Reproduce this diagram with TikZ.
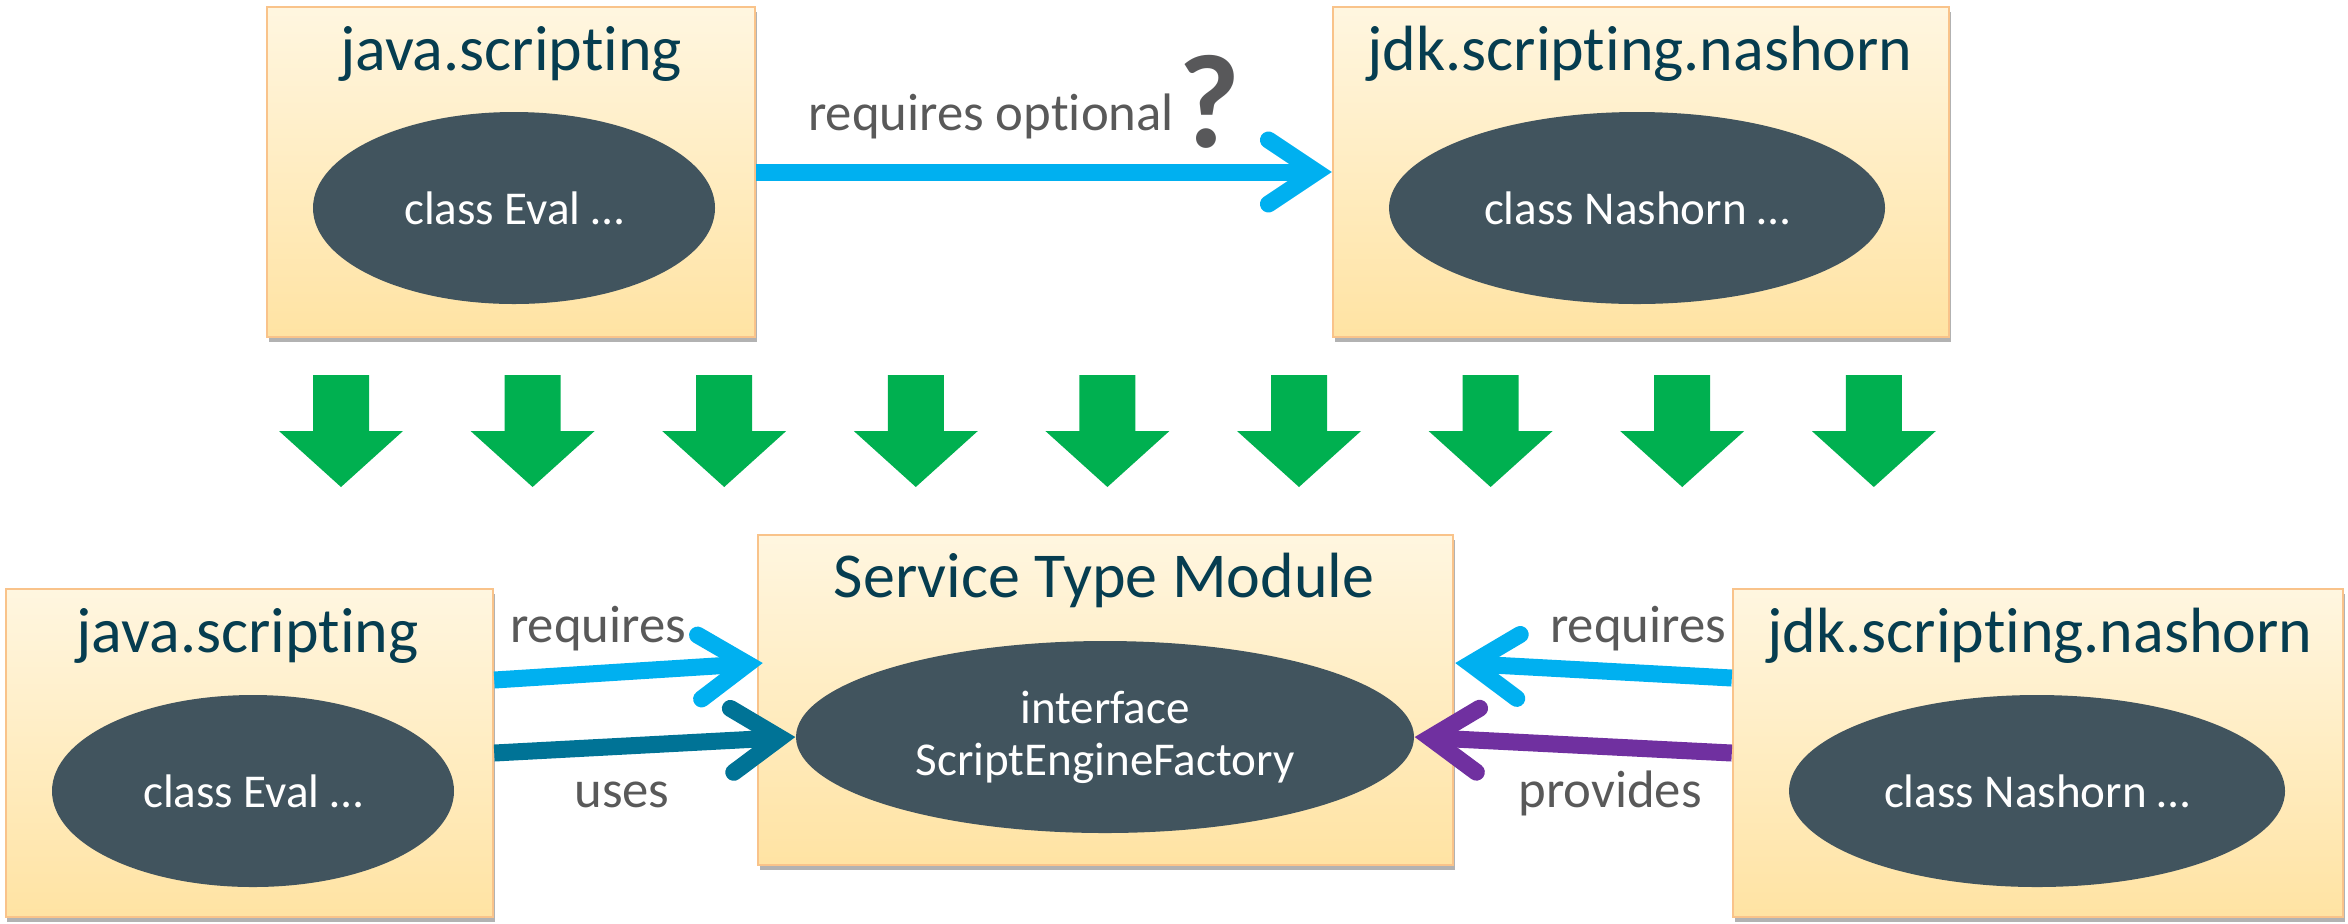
\documentclass[tikz,border=0pt]{standalone}
\usepackage{fontspec}
\setmainfont{Carlito}[Ligatures=NoCommon]
\usetikzlibrary{arrows.meta,shadows,shapes.geometric}
\definecolor{boxtop}{HTML}{FFF6E0}
\definecolor{boxbot}{HTML}{FFE3A3}
\definecolor{boxedge}{HTML}{F9C38A}
\definecolor{ellfill}{HTML}{41545E}
\definecolor{titlecol}{HTML}{063D50}
\definecolor{lblgray}{HTML}{595959}
\definecolor{qgray}{HTML}{58585A}
\definecolor{reqblue}{HTML}{00B0F0}
\definecolor{usesteal}{HTML}{007396}
\definecolor{provpurple}{HTML}{7030A0}
\definecolor{downgreen}{HTML}{00B050}
\tikzset{
  modbox/.style={draw=boxedge, line width=0.7pt, top color=boxtop, bottom color=boxbot, inner sep=0pt,
    drop shadow={shadow xshift=0.015cm, shadow yshift=-0.05cm, opacity=0.3, fill=black}},
  cls/.style={ellipse, fill=ellfill, text=white, inner sep=0pt, minimum height=1.92cm,
    font=\fontsize{13.4}{14.8}\selectfont, align=center},
  titletext/.style={anchor=base, text=titlecol, font=\fontsize{18.2}{20}\selectfont, inner sep=0pt},
  lbl/.style={anchor=base, text=lblgray, font=\fontsize{15}{17}\selectfont, inner sep=0pt},
  conn/.style={line width=0.17cm, -{Straight Barb[length=0.48cm, width=0.64cm, line cap=round, line join=miter]}},
  blockdown/.style={fill=downgreen},
}
\begin{document}
\begin{tikzpicture}
\useasboundingbox (0,0) rectangle (23.48,-9.23);
% module boxes
\node[modbox, minimum width=4.88cm, minimum height=3.30cm] (TL) at (5.11,-1.72) {};
\node[modbox, minimum width=6.16cm, minimum height=3.30cm] (TR) at (16.41,-1.72) {};
\node[modbox, minimum width=4.87cm, minimum height=3.28cm] (BL) at (2.495,-7.53) {};
\node[modbox, minimum width=6.95cm, minimum height=3.30cm] (S) at (11.055,-7.00) {};
\node[modbox, minimum width=6.10cm, minimum height=3.28cm] (BR) at (20.38,-7.53) {};
% titles
\node[titletext] (TLt) at (5.11,-0.70) {java.scripting};
\node[titletext] (TRt) at (16.40,-0.70) {jdk.scripting.nashorn};
\node[titletext] (BLt) at (2.475,-6.52) {java.scripting};
\node[titletext] (St) at (11.04,-5.97) {Service Type Module};
\node[titletext] (BRt) at (20.40,-6.52) {jdk.scripting.nashorn};
% classes
\node[cls, minimum width=4.02cm] (TLe) at (5.14,-2.08) {class Eval …};
\node[cls, minimum width=4.96cm] (TRe) at (16.37,-2.08) {class Nashorn …};
\node[cls, minimum width=4.02cm] (BLe) at (2.53,-7.91) {class Eval …};
\node[cls, minimum width=6.18cm] (SE) at (11.05,-7.37) {interface\\ScriptEngineFactory};
\node[cls, minimum width=4.96cm] (BRe) at (20.37,-7.91) {class Nashorn …};
% green block arrows
\foreach \k in {0,...,8} {
  \pgfmathsetmacro\cx{3.41+1.916*\k}
  \fill[blockdown] (\cx-0.28,-3.75) -- (\cx+0.28,-3.75) -- (\cx+0.28,-4.31) -- (\cx+0.62,-4.31)
    -- (\cx,-4.87) -- (\cx-0.62,-4.31) -- (\cx-0.28,-4.31) -- cycle;
}
% connectors
\draw[conn, reqblue] (TL) -- (TR);
\draw[conn, reqblue] ([yshift=0.73cm]BL.east) -- ([xshift=0.06cm,yshift=0.37cm]S.west);
\draw[conn, usesteal] (BL.east) -- (SE.west);
\draw[conn, reqblue] ([yshift=0.75cm]BR.west) -- ([xshift=0.01cm,yshift=0.37cm]S.east);
\draw[conn, provpurple] (BR.west) -- (SE.east);
% labels
\node[lbl] (lopt) at (9.91,-1.30) {requires optional};
\node[anchor=base, text=qgray, inner sep=0pt, font=\fontsize{38}{42}\selectfont\bfseries] (qm) at (12.095,-1.47) {?};
\node[lbl] (lreq1) at (5.98,-6.42) {requires};
\node[lbl] (luses) at (6.22,-8.07) {uses};
\node[lbl] (lreq2) at (16.38,-6.42) {requires};
\node[lbl] (lprov) at (16.10,-8.07) {provides};
\end{tikzpicture}
\end{document}
